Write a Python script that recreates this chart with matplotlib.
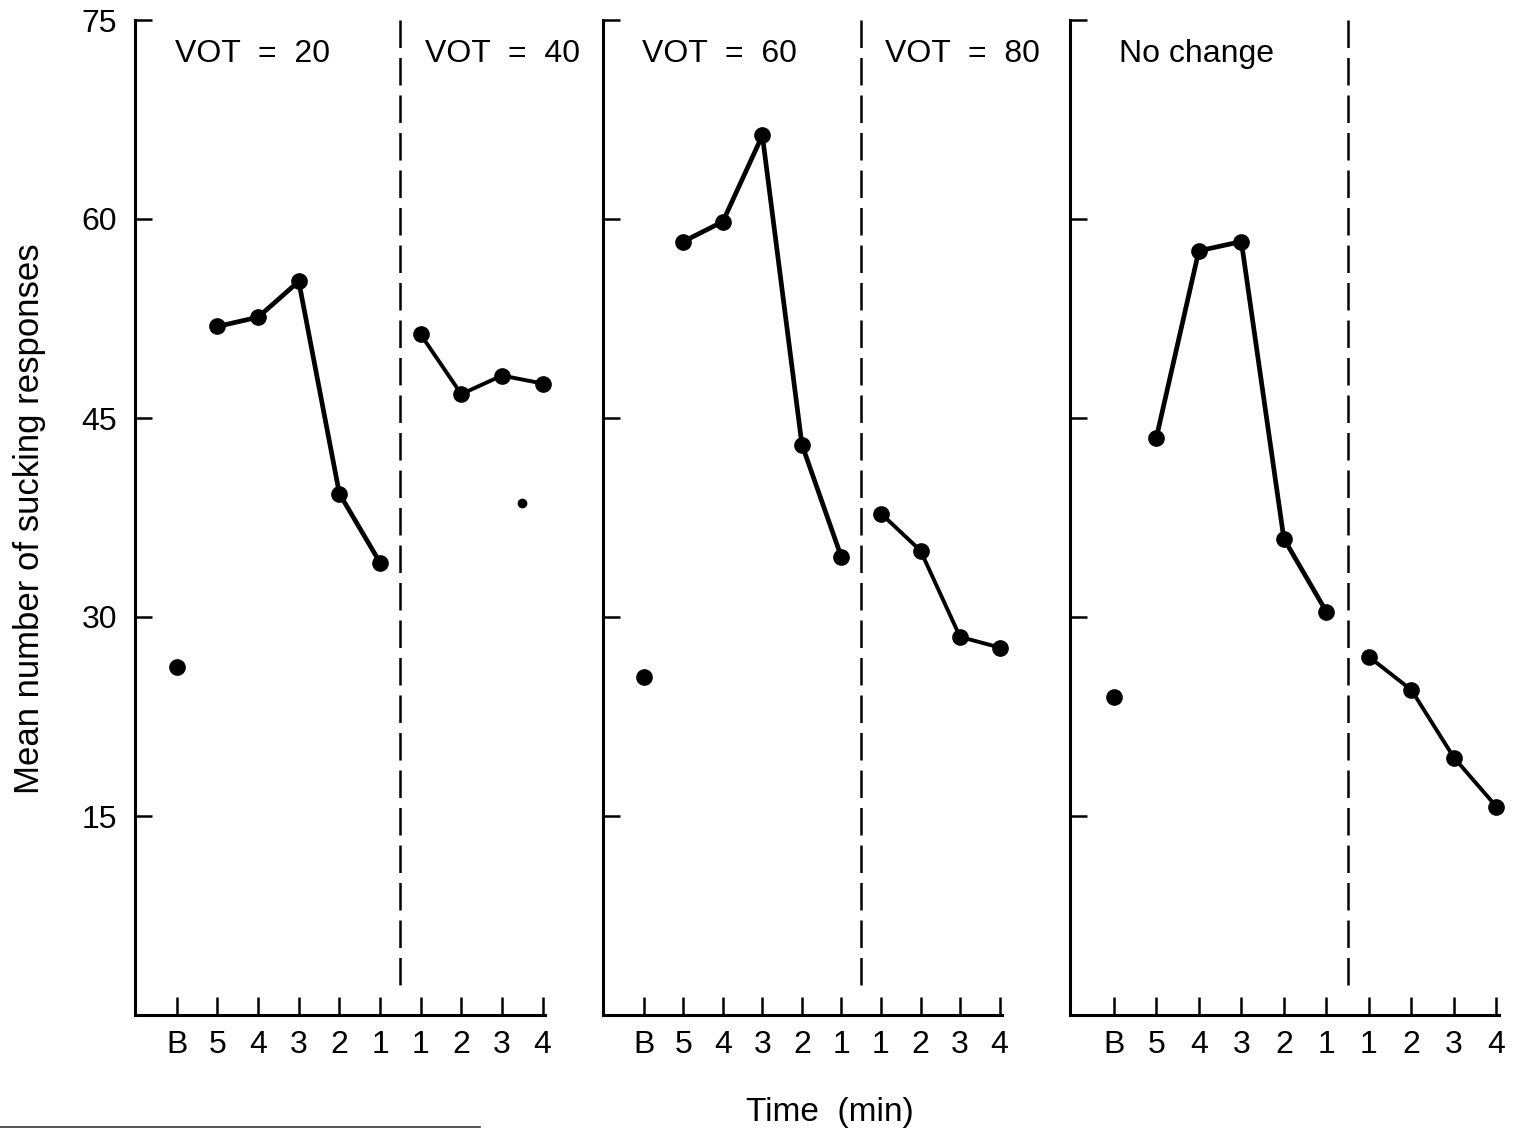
import numpy as np
import matplotlib
matplotlib.use("Agg")
import matplotlib.pyplot as plt
from matplotlib.lines import Line2D

plt.rcParams['font.family'] = ['Liberation Sans', 'DejaVu Sans']

# minutes before the shift (B = baseline) and after it
pre_labels = ["B", "5", "4", "3", "2", "1"]
post_labels = ["1", "2", "3", "4"]
tick_labels = pre_labels + post_labels

panel_titles = [("VOT  =  20", "VOT  =  40"), ("VOT  =  60", "VOT  =  80"), ("No change", "")]

# mean sucking responses per minute
baseline = [26.2, 25.5, 24.0]
pre_shift = [
    [51.9, 52.6, 55.3, 39.3, 34.1],
    [58.3, 59.8, 66.3, 43.0, 34.5],
    [43.5, 57.6, 58.3, 35.9, 30.4],
]
post_shift = [
    [51.3, 46.8, 48.2, 47.6],
    [37.8, 35.0, 28.5, 27.7],
    [27.0, 24.5, 19.4, 15.7],
]
# stray point in the first panel
extra_x = [8.5]
extra_y = [38.6]

yticks = [15, 30, 45, 60, 75]

W, H = 1528, 1136
fig = plt.figure(figsize=(W / 100, H / 100), dpi=100)

# axes boxes in pixels: (left spine x, right end x)
boxes = [(135, 545), (603, 1002), (1070, 1499)]
y_top, y_bot = 20, 1015

for i, (x0, x1) in enumerate(boxes):
    ax = fig.add_axes([x0 / W, 1 - y_bot / H, (x1 - x0) / W, (y_bot - y_top) / H])
    xpos = np.arange(len(tick_labels))

    ax.plot([0], [baseline[i]], "o", color="black", ms=11, clip_on=False)
    ax.plot(xpos[1:6], pre_shift[i], "-o", color="black", lw=3.4, ms=11,
            clip_on=False)
    ax.plot(xpos[6:], post_shift[i], "-o", color="black", lw=2.8, ms=11,
            clip_on=False)
    if i == 0:
        ax.plot(extra_x, extra_y, "o", color="black", ms=6)

    ax.axvline(5.5, ymin=0.03, ymax=1.0, color="black", lw=1.8,
               linestyle=(0, (11, 4)))

    ax.set_xlim(-1.03, 9.06)
    ax.set_ylim(0, 75)
    ax.set_xticks(xpos)
    ax.set_xticklabels(tick_labels, fontsize=23)
    ax.set_yticks(yticks)
    if i == 0:
        ax.set_yticklabels([str(v) for v in yticks], fontsize=23)
    else:
        ax.set_yticklabels([])

    ax.tick_params(axis="x", direction="in", length=13, width=1.8, pad=11)
    ax.tick_params(axis="y", direction="in", length=12, width=1.8, pad=13)
    for side in ["top", "right"]:
        ax.spines[side].set_visible(False)
    for side in ["left", "bottom"]:
        ax.spines[side].set_linewidth(2.2)

    left_title, right_title = panel_titles[i]
    ax.text(-0.05 if i < 2 else 0.12, 72.4, left_title, fontsize=23,
            ha="left", va="center")
    if right_title:
        ax.text(6.1, 72.4, right_title, fontsize=23, ha="left", va="center")

fig.text(30 / W, 1 - 519 / H, "Mean number of sucking responses", rotation=90,
         fontsize=25, ha="center", va="center")
fig.text(830 / W, 1 - 1113 / H, "Time  (min)", fontsize=24, ha="center", va="center")

# separator rule at the bottom left
fig.add_artist(Line2D([0, 480 / W], [1 - 1127 / H] * 2, color="#333333", lw=1.2))

fig.savefig("out.png", dpi=100)
